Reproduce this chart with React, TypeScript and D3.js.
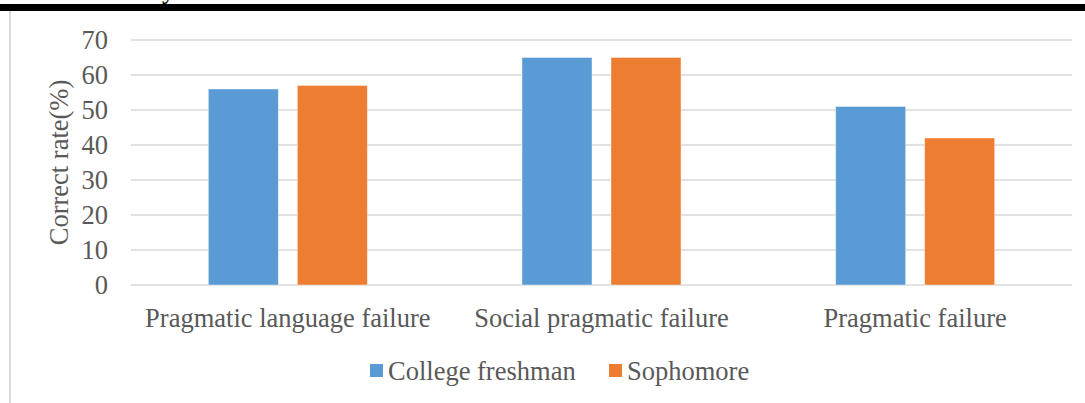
import React from "react";
import * as d3 from "d3";

const categories = ["Pragmatic language failure", "Social pragmatic failure", "Pragmatic failure"];
const seriesNames = ["College freshman", "Sophomore"];
const freshman = [56, 65, 51];
const sophomore = [57, 65, 42];
const yTicks = [0, 10, 20, 30, 40, 50, 60, 70];
const colors = ["#5b9bd5", "#ed7d31"];

const W = 1085, H = 403;
const left = 131, right = 1072, top = 40, bottom = 285;

export default function App() {
  const x0 = d3.scaleBand<string>().domain(categories).range([left, right]).paddingInner(0).paddingOuter(0);
  const y = d3.scaleLinear().domain([0, 70]).range([bottom, top]);
  const barW = 70, gap = 19;
  const values = [freshman, sophomore];
  const font = "'Liberation Serif', 'Times New Roman', serif";
  const textColor = "#595959";
  const fs = 26.5;
  return (
    <svg width={W} height={H} style={{ position: "absolute", left: 0, top: 0, background: "#fff" }} fontFamily={font}>
      <rect x={0} y={0} width={W} height={H} fill="#fff" />
      <text x={162} y={-2} fontSize={fs} fill="#000">y</text>
      <rect x={0} y={4} width={W} height={7} fill="#000" />
      <line x1={10} x2={10} y1={11} y2={H} stroke="#d9d9d9" strokeWidth={2} />
      {yTicks.map(t => (
        <g key={t}>
          <line x1={left} x2={right} y1={y(t)} y2={y(t)} stroke="#d9d9d9" strokeWidth={1.5} />
          <text x={108} y={y(t)} dy="0.35em" textAnchor="end" fontSize={fs} fill={textColor}>{t}</text>
        </g>
      ))}
      {categories.map((c, i) => {
        const cx = (x0(c) as number) + x0.bandwidth() / 2;
        return (
          <g key={c}>
            {values.map((vals, s) => {
              const bx = s === 0 ? cx - gap / 2 - barW : cx + gap / 2;
              return (
                <rect key={s} x={bx} y={y(vals[i])} width={barW} height={y(0) - y(vals[i])}
                  fill={colors[s]} stroke="#ffffff" strokeOpacity={0.5} strokeWidth={0.8} />
              );
            })}
            <text x={cx} y={327} textAnchor="middle" fontSize={fs} fill={textColor}>{c}</text>
          </g>
        );
      })}
      <text transform={`translate(68,${(top + bottom) / 2}) rotate(-90)`} textAnchor="middle" fontSize={fs} fill={textColor}>Correct rate(%)</text>
      {seriesNames.map((n, s) => {
        const lx = s === 0 ? 370 : 609;
        return (
          <g key={n}>
            <rect x={lx} y={364} width={13} height={13} fill={colors[s]} />
            <text x={lx + 18} y={380} fontSize={fs} fill={textColor}>{n}</text>
          </g>
        );
      })}
    </svg>
  );
}
